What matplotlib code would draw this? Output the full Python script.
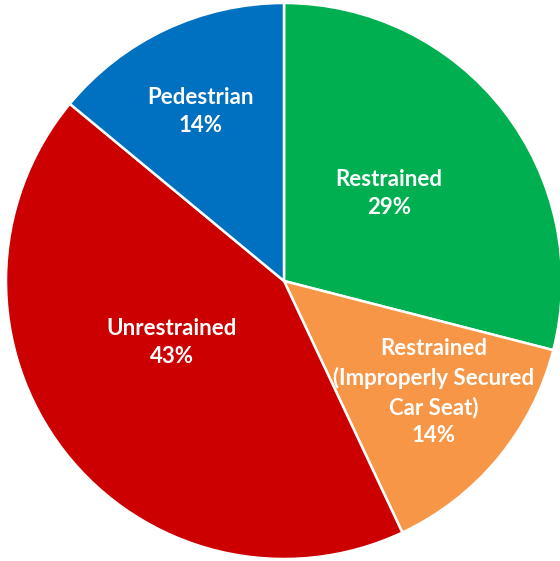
import numpy as np
import matplotlib
matplotlib.use("Agg")
import matplotlib.pyplot as plt

# --- данные ---
labels = ["Restrained", "Restrained\n(Improperly Secured\nCar Seat)", "Unrestrained", "Pedestrian"]
shares = [29, 14, 43, 14]
colors = ["#00B050", "#F79646", "#CC0000", "#0070C0"]

# радиальное положение подписей (доля радиуса) и поворот от середины сектора, град
label_r = [0.49, 0.67, 0.46, 0.68]
label_shift = [2, 3, -9, 1]

fig = plt.figure(figsize=(5.60, 5.61), dpi=100)
ax = fig.add_axes([0, 0, 1, 1])

wedges, _ = ax.pie(shares, colors=colors, startangle=90, counterclock=False,
                   radius=1.0, center=(0, 0),
                   wedgeprops=dict(edgecolor="white", linewidth=1.8))

for w, lab, val, r, sh in zip(wedges, labels, shares, label_r, label_shift):
    mid = np.deg2rad((w.theta1 + w.theta2) / 2 + sh)
    ax.text(r * np.cos(mid), r * np.sin(mid), f"{lab}\n{val}%",
            ha="center", va="center", color="white", fontsize=16,
            fontweight="bold", family="Lato", linespacing=1.42)

# пирог занимает почти всю картинку
R = 1.0
ax.set_xlim(-284 / 278 * R, (560 - 284) / 278 * R)
ax.set_ylim(-(561 - 281) / 278 * R, 281 / 278 * R)
ax.set_aspect("equal")
ax.axis("off")

fig.savefig("out.png", dpi=100)
